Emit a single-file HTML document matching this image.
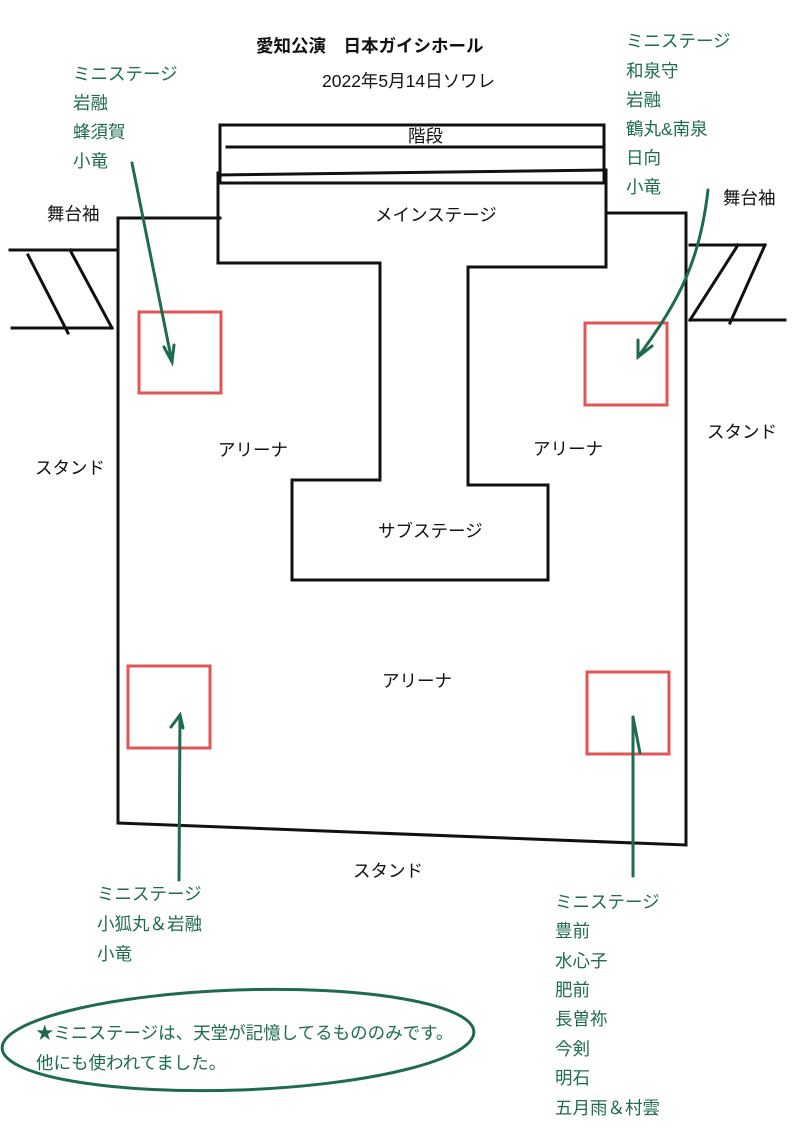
<!DOCTYPE html>
<html><head><meta charset="utf-8"><style>
html,body{margin:0;padding:0;background:#fff;}
svg{display:block;}
text{font-family:"Liberation Sans","Noto Sans CJK JP",sans-serif;font-size:17.5px;}
.g{fill:#1e6b52;}
.k{fill:#111;}
</style></head><body>
<svg width="800" height="1131" viewBox="0 0 800 1131" xmlns="http://www.w3.org/2000/svg">
<g stroke="#111" stroke-width="3" fill="none" stroke-linecap="square">
<rect x="220" y="125" width="384" height="58"/>
<line x1="227" y1="147" x2="602" y2="147"/>
<line x1="218" y1="175" x2="606" y2="170"/>
<polyline points="218,173 218,263 380,263 380,480 292,480 292,580 548,580 548,485 468,485 468,267 606,267 606,170"/>
<polyline points="220,218 118,218 118,823 686,845 686,213 606,213"/>
<line x1="10" y1="250" x2="115" y2="250"/>
<line x1="12" y1="328" x2="112" y2="328"/>
<line x1="28" y1="255" x2="68" y2="333"/>
<line x1="70" y1="250" x2="112" y2="328"/>
<line x1="690" y1="245" x2="765" y2="245"/>
<line x1="690" y1="320" x2="785" y2="320"/>
<line x1="690" y1="320" x2="738" y2="245"/>
<line x1="730" y1="323" x2="765" y2="245"/>
</g>
<g stroke="#e05555" stroke-width="3" fill="none">
<rect x="139" y="312" width="82" height="81"/>
<rect x="585" y="323" width="82" height="82"/>
<rect x="128" y="666" width="82" height="82"/>
<rect x="587" y="672" width="82" height="82"/>
</g>
<g stroke="#1e6b52" stroke-width="3" fill="none" stroke-linecap="round">
<line x1="132" y1="163" x2="172" y2="362"/>
<polyline points="164,347 172,362 174,345"/>
<path d="M708,190 C700,260 680,300 638,357"/>
<polyline points="638,340 638,357 652,346"/>
<line x1="179" y1="880" x2="180" y2="715"/>
<polyline points="171,727 180,715 183,728"/>
<line x1="633" y1="876" x2="633" y2="717"/>
<polyline points="633,717 640,753"/>
<ellipse cx="238" cy="1040" rx="236" ry="50" transform="rotate(-2 238 1040)"/>
</g>
<text class="k" x="256" y="52" font-weight="bold" font-size="17">愛知公演　日本ガイシホール</text>
<text class="k" x="322" y="87" font-size="16">2022年5月14日ソワレ</text>
<text class="k" x="408" y="142" font-size="16">階段</text>
<text class="k" x="375" y="221">メインステージ</text>
<text class="k" x="47" y="220">舞台袖</text>
<text class="k" x="723" y="204">舞台袖</text>
<text class="k" x="218" y="456">アリーナ</text>
<text class="k" x="533" y="455">アリーナ</text>
<text class="k" x="382" y="687">アリーナ</text>
<text class="k" x="378" y="537">サブステージ</text>
<text class="k" x="35" y="474">スタンド</text>
<text class="k" x="707" y="438">スタンド</text>
<text class="k" x="353" y="877">スタンド</text>
<g class="g">
<text x="73" y="80">ミニステージ</text>
<text x="73" y="109">岩融</text>
<text x="73" y="138">蜂須賀</text>
<text x="73" y="167">小竜</text>
<text x="626" y="47">ミニステージ</text>
<text x="626" y="77">和泉守</text>
<text x="626" y="106">岩融</text>
<text x="626" y="135">鶴丸&amp;南泉</text>
<text x="626" y="164">日向</text>
<text x="626" y="193">小竜</text>
<text x="97" y="900">ミニステージ</text>
<text x="97" y="930">小狐丸＆岩融</text>
<text x="97" y="960">小竜</text>
<text x="555" y="908">ミニステージ</text>
<text x="555" y="937">豊前</text>
<text x="555" y="967">水心子</text>
<text x="555" y="996">肥前</text>
<text x="555" y="1025">長曽祢</text>
<text x="555" y="1055">今剣</text>
<text x="555" y="1084">明石</text>
<text x="555" y="1114">五月雨＆村雲</text>
<text x="36" y="1039">★ミニステージは、天堂が記憶してるもののみです。</text>
<text x="36" y="1069">他にも使われてました。</text>
</g>
</svg>
</body></html>
